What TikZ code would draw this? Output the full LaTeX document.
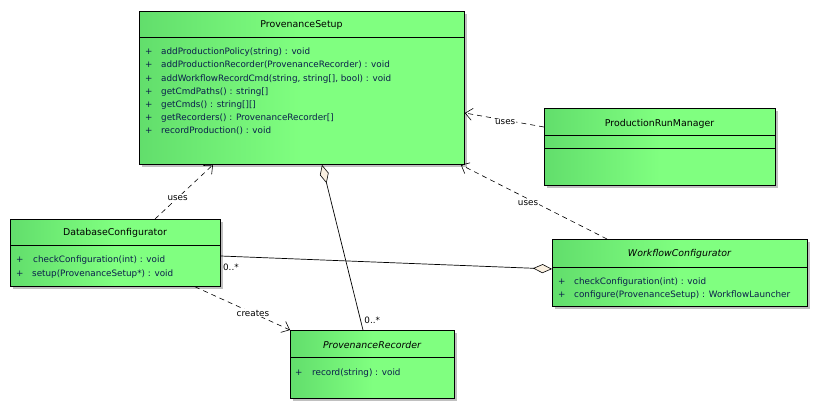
\documentclass[tikz,border=0pt]{standalone}
\usepackage{fontspec}
\setmainfont{DejaVu Sans}
\usetikzlibrary{arrows.meta,shadows,calc}
\definecolor{gL}{RGB}{98,222,108}
\definecolor{gR}{RGB}{128,255,128}
\definecolor{shd}{RGB}{192,192,192}
\definecolor{opc}{RGB}{10,30,75}
\definecolor{dfill}{RGB}{250,240,225}
\tikzset{aggtip/.tip={Diamond[length=19pt,width=9pt,fill=dfill,line width=0.6pt]}}
\begin{document}
\begin{tikzpicture}[x=1pt,y=-1pt,
  classbox/.style={draw=black, line width=0.8pt, left color=gL, right color=gR, middle color=gR,
    drop shadow={shadow xshift=3pt, shadow yshift=-3pt, fill=shd, opacity=1},
    inner sep=0pt, anchor=north west},
  sepline/.style={line width=0.8pt},
  title/.style={font=\fontsize{9.4}{11}\selectfont, text=black, inner sep=0pt},
  ititle/.style={title, font=\fontsize{9.4}{11}\selectfont\itshape},
  op/.style={anchor=base west, font=\fontsize{8.8}{10}\selectfont, text=opc, inner sep=0pt},
  lbl/.style={font=\fontsize{8.8}{10}\selectfont, text=black, inner sep=1pt},
  dep/.style={line width=0.6pt, dash pattern=on 5pt off 4pt, -{Straight Barb[length=7pt,width=12pt,line width=0.6pt]}},
  assoc/.style={line width=0.7pt}
]
\useasboundingbox (0,0) rectangle (817,410);

% ---------- boxes ----------
\node[classbox, minimum width=325pt, minimum height=153pt] (ps) at (139,11) {};
\draw[sepline] ([yshift=-26pt]ps.north west) -- ([yshift=-26pt]ps.north east);
\node[title] (pst) at (301.5,25) {ProvenanceSetup};
\node[op] (ps1p) at (145,54.8) {+};
\node[op] (ps1) at (161,54.8) {addProductionPolicy(string) : void};
\node[op] (ps2p) at (145,67.9) {+};
\node[op] (ps2) at (161,67.9) {addProductionRecorder(ProvenanceRecorder) : void};
\node[op] (ps3p) at (145,81.0) {+};
\node[op] (ps3) at (161,81.0) {addWorkflowRecordCmd(string, string[], bool) : void};
\node[op] (ps4p) at (145,94.0) {+};
\node[op] (ps4) at (161,94.0) {getCmdPaths() : string[]};
\node[op] (ps5p) at (145,107.1) {+};
\node[op] (ps5) at (161,107.1) {getCmds() : string[][]};
\node[op] (ps6p) at (145,120.1) {+};
\node[op] (ps6) at (161,120.1) {getRecorders() : ProvenanceRecorder[]};
\node[op] (ps7p) at (145,133.2) {+};
\node[op] (ps7) at (161,133.2) {recordProduction() : void};

\node[classbox, minimum width=231pt, minimum height=77pt] (prm) at (544,108) {};
\draw[sepline] ([yshift=-27pt]prm.north west) -- ([yshift=-27pt]prm.north east);
\draw[sepline] ([yshift=-40pt]prm.north west) -- ([yshift=-40pt]prm.north east);
\node[title] (prmt) at (659.5,124) {ProductionRunManager};

\node[classbox, minimum width=210pt, minimum height=67pt] (dbc) at (10,219) {};
\draw[sepline] ([yshift=-26pt]dbc.north west) -- ([yshift=-26pt]dbc.north east);
\node[title] (dbct) at (115,233) {DatabaseConfigurator};
\node[op] (dbc1p) at (16,262.5) {+};
\node[op] (dbc1) at (33,262.5) {checkConfiguration(int) : void};
\node[op] (dbc2p) at (16,276) {+};
\node[op] (dbc2) at (32,276) {setup(ProvenanceSetup*) : void};

\node[classbox, minimum width=255pt, minimum height=67pt] (wfc) at (552,239) {};
\draw[sepline] ([yshift=-28pt]wfc.north west) -- ([yshift=-28pt]wfc.north east);
\node[ititle] (wfct) at (679.5,254) {WorkflowConfigurator};
\node[op] (wfc1p) at (558,284.5) {+};
\node[op] (wfc1) at (574,284.5) {checkConfiguration(int) : void};
\node[op] (wfc2p) at (558,297) {+};
\node[op] (wfc2) at (574,297) {configure(ProvenanceSetup) : WorkflowLauncher};

\node[classbox, minimum width=164pt, minimum height=68pt] (pr) at (290,330) {};
\draw[sepline] ([yshift=-27pt]pr.north west) -- ([yshift=-27pt]pr.north east);
\node[ititle] (prt) at (372,345) {ProvenanceRecorder};
\node[op] (pr1p) at (295,375.5) {+};
\node[op] (pr1) at (312,375.5) {record(string) : void};

% ---------- connectors ----------
\draw[dep] ([xshift=145pt]dbc.north west) -- node[lbl, fill=white, pos=0.39] (u1) {uses} ([xshift=74pt]ps.south west);
\draw[dep] ([yshift=-19pt]prm.north west) -- node[lbl, fill=white, pos=0.49, yshift=-2pt] (u2) {uses} ([yshift=-102pt]ps.north east);
\draw[dep] ([xshift=55pt]wfc.north west) -- node[lbl, fill=white, pos=0.54, yshift=-4pt] (u3) {uses} ([xshift=-4pt]ps.south east);
\draw[dep] ([xshift=185pt]dbc.south west) -- node[lbl, fill=white, pos=0.61] (cr) {creates} (pr.north west);

\draw[assoc, {aggtip}-] ([xshift=183pt]ps.south west) -- node[lbl, pos=0.93, right, xshift=3pt, yshift=-2pt] (m1) {0..*} ([xshift=73pt]pr.north west);
\draw[assoc, -{aggtip}] ([yshift=-37pt]dbc.north east) -- node[lbl, pos=0, below right, xshift=1pt, yshift=-7pt] (m2) {0..*} ([yshift=-30pt]wfc.north west);
\end{tikzpicture}
\end{document}
